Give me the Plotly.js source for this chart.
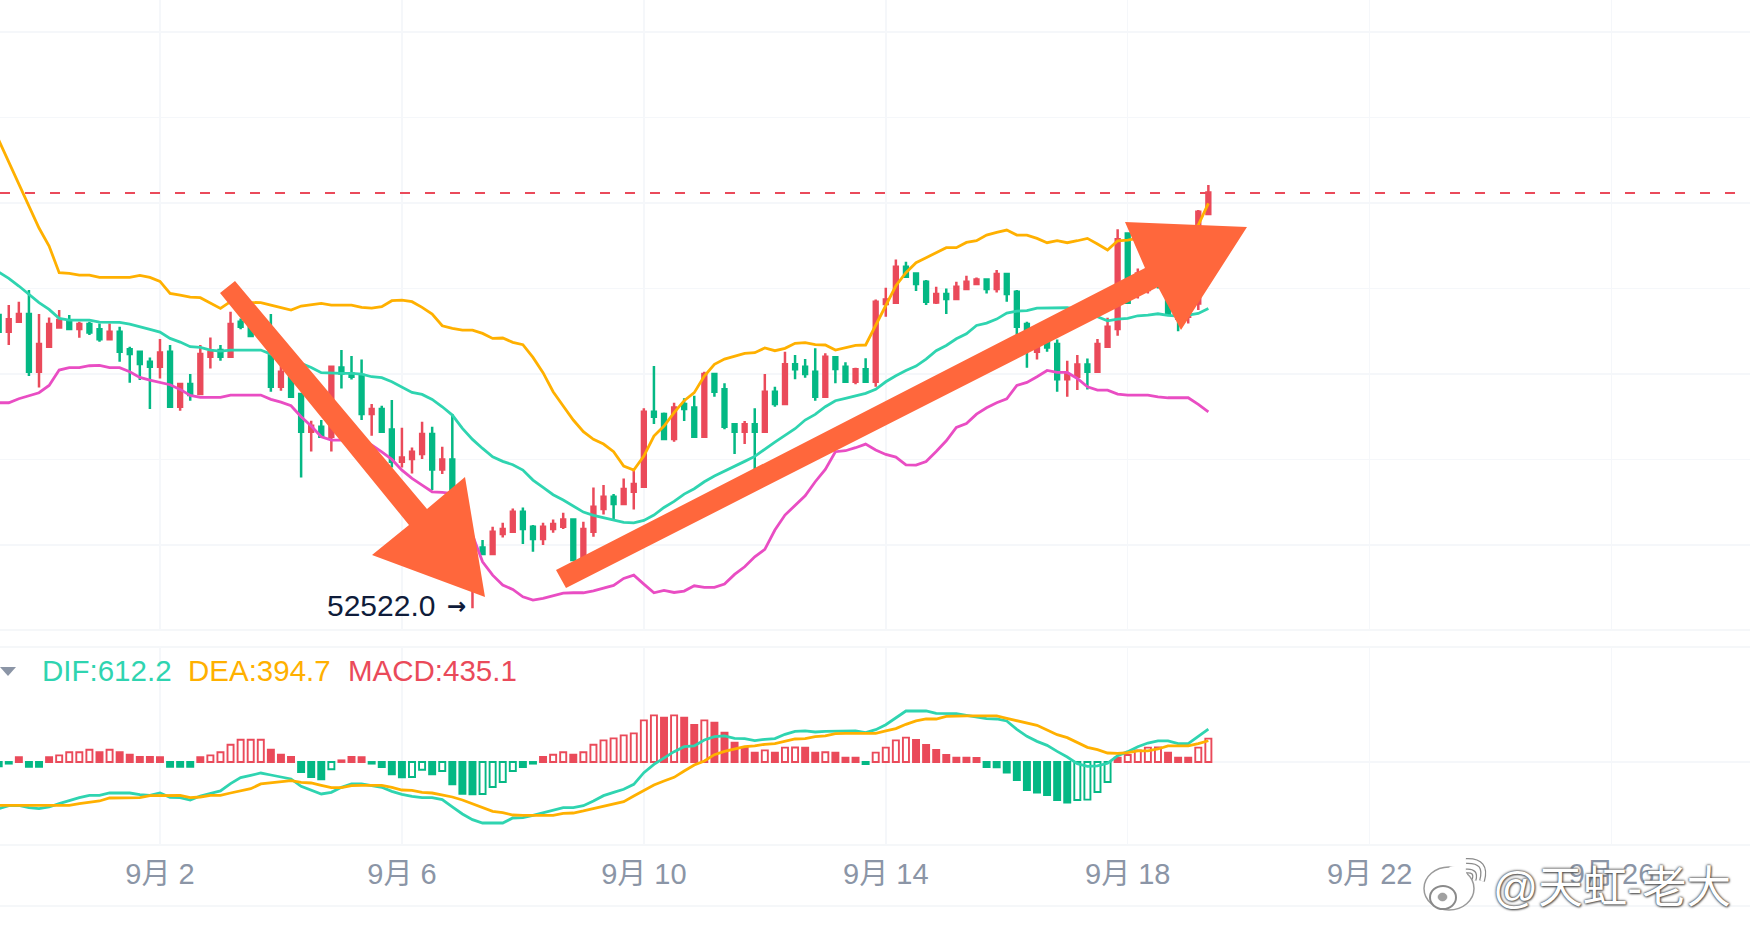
<!DOCTYPE html>
<html>
<head>
<meta charset="utf-8">
<script src="https://cdn.plot.ly/plotly-3.0.1.min.js"></script>
<style>
  html, body { margin: 0; padding: 0; background: #fff; overflow: hidden; }
  #chart { width: 1750px; height: 928px; }
</style>
</head>
<body>
<div id="chart"></div>
<script>
const tickIndex = [16, 40, 64, 88, 112, 136, 160];
const tickLabels = ["9月 2", "9月 6", "9月 10", "9月 14", "9月 18", "9月 22", "9月 26"];
const priceGrid = [54000, 56000, 58000, 60000, 62000, 64000, 66000];
const lastPrice = 62233;
const lowPrice = 52522;
const lowIndex = 47;

const open = [
  59379,58989,59223,59402,58053,58638,59090,59246,59051,59168,
  59044,58810,58989,58576,58521,58287,58170,58521,57234,57764,
  57530,58404,58560,58404,59223,59106,58888,59067,57702,58014,
  57530,56649,56766,56532,58154,58014,57975,57062,57179,56704,
  55947,56010,56127,56594,55768,56002,54738,53000,53944,53787,
  54255,54310,54778,54427,54138,54372,54427,54599,53725,54310,
  54840,55129,54957,55246,55363,57118,57063,56478,57297,57219,
  56533,58000,57641,56822,56650,56822,56650,57586,57297,58226,
  58171,58054,57469,58389,58171,57820,58109,57818,59635,59667,
  60509,60353,60158,59674,59869,59752,59986,60103,60213,59986,
  60337,59924,59167,58520,58754,58699,57880,57935,58224,58052,
  58637,59050,61289,59885,59963,60400,60119,59800,59339,59651,
  61741
];
const high = [
  59496,59613,59691,59964,59402,59324,59496,59379,59223,59223,
  59184,59184,59106,58638,58521,58388,58817,58677,57796,58000,
  58677,58856,58677,59457,59301,59184,59400,59402,58326,58170,
  57546,56906,56922,58170,58560,58420,58342,57296,57257,57390,
  56743,56282,56883,56766,56298,57062,54900,54000,54115,54427,
  54521,54856,54879,54466,54521,54599,54755,54599,54544,55347,
  55402,55191,55558,55792,57196,58187,57102,57329,57430,57492,
  58054,58000,57781,56822,56900,57196,58000,57703,58522,58444,
  58350,58600,58483,58389,58272,58148,58366,59745,60018,60681,
  60626,60369,60197,60041,60002,60158,60298,60259,60213,60431,
  60353,59963,59222,58871,58832,58809,58309,58442,58364,58816,
  59316,61383,61305,60470,60509,60500,60300,60000,60500,61835,
  62420
];
const low = [
  58911,58677,59223,57952,57686,58638,59067,59051,58849,58911,
  58755,58810,58287,57796,57858,57179,57897,57211,57140,57374,
  57530,58131,58310,58404,59044,58888,58888,57585,57608,57445,
  55581,56189,56532,56189,57663,57874,56922,56555,56649,55814,
  55814,55674,56010,55284,55658,54582,53600,52522,53787,53787,
  54177,54310,54021,53842,53998,54287,54372,53647,53725,54193,
  54716,54583,54957,54833,55363,56829,56478,56416,56900,56533,
  56533,57469,56705,56127,56361,55753,56650,57235,57297,57875,
  57914,57375,57469,57781,57820,57758,57820,57701,59339,59635,
  60275,59940,59612,59635,59401,59752,59986,60103,59885,59908,
  59690,58910,58146,58341,58520,57584,57467,57623,57639,58052,
  58637,58894,59651,59768,59885,60000,59400,59000,59183,59495,
  61741
];
const close = [
  58989,59278,59402,58053,58700,59168,59262,59051,59168,58973,
  58810,58989,58521,58466,58232,58170,58505,57234,57764,57507,
  58466,58521,58404,59168,59106,58888,59220,57702,58053,57468,
  56649,56789,56532,58170,58014,57936,57062,57179,56649,55947,
  56048,56181,56594,55768,56002,54738,53800,53800,53787,54310,
  54372,54778,54372,54138,54427,54489,54599,53647,54372,54895,
  55129,54957,55308,55425,57118,57001,56478,57219,57180,56533,
  58000,57586,56767,56650,56822,56650,57586,57297,58226,58109,
  58000,57469,58405,58116,57820,58109,57820,59690,59745,60509,
  60275,60103,59690,59869,59752,60041,60158,60213,59986,60337,
  59869,59105,58715,58637,58621,57880,57997,58224,58052,58699,
  59105,61149,59667,60353,60431,60100,59400,59300,60431,61796,
  62248
];

const bollUpper = [
  63473,62958,62420,61906,61415,60994,60370,60354,60315,60315,
  60260,60260,60260,60260,60307,60260,60167,59886,59847,59800,
  59785,59668,59535,59691,59699,59675,59668,59613,59558,59496,
  59590,59613,59652,59613,59613,59613,59558,59543,59574,59714,
  59730,59691,59558,59402,59129,59067,59028,59028,58950,58833,
  58842,58740,58686,58389,58031,57586,57251,56923,56650,56471,
  56361,56182,55847,55753,56081,56549,56783,57095,57375,57563,
  57953,58226,58350,58421,58483,58499,58608,58545,58600,58717,
  58733,58686,58678,58561,58608,58670,58678,59144,59612,60064,
  60369,60603,60720,60837,60954,60954,61078,61117,61250,61312,
  61367,61250,61250,61172,61071,61117,61071,61117,61172,61039,
  60899,61117,61133,61172,61172,61211,61250,61289,61328,61484,
  61991
];
const bollMiddle = [
  60385,60237,60058,59863,59668,59512,59301,59262,59262,59262,
  59215,59207,59207,59168,59114,59044,58981,58833,58747,58638,
  58622,58560,58537,58560,58560,58560,58560,58466,58404,58326,
  58248,58154,58030,58014,58014,58014,57998,57936,57913,57819,
  57686,57569,57523,57406,57234,57039,56727,56470,56259,56064,
  55956,55878,55753,55519,55347,55176,55051,54911,54770,54692,
  54638,54575,54528,54520,54575,54700,54879,55020,55191,55316,
  55480,55613,55722,55839,55956,56073,56244,56408,56564,56720,
  56923,57056,57235,57375,57430,57485,57547,57641,57818,57958,
  58083,58185,58348,58543,58668,58824,58941,59136,59191,59284,
  59425,59472,59480,59542,59550,59550,59550,59511,59433,59339,
  59245,59284,59300,59362,59378,59409,59370,59355,59378,59417,
  59534
];
const bollLower = [
  57328,57328,57421,57484,57562,57733,58092,58147,58147,58193,
  58201,58147,58147,58053,57921,57858,57803,57749,57640,57499,
  57452,57452,57452,57507,57507,57507,57507,57406,57343,57257,
  57000,56782,56532,56454,56454,56454,56415,56337,56181,56002,
  55752,55557,55401,55245,55229,55206,54777,54231,53607,53295,
  53062,52961,52789,52711,52750,52812,52875,52883,52883,52929,
  52984,53054,53218,53296,53085,52883,52937,52890,52922,53046,
  53008,53008,53085,53312,53491,53725,53897,54349,54700,54918,
  55152,55480,55769,56182,56205,56276,56361,56221,56118,56055,
  55876,55868,55954,56188,56437,56749,56843,57061,57210,57327,
  57420,57732,57802,57935,58083,58036,58036,57896,57701,57623,
  57623,57529,57506,57506,57506,57467,57444,57444,57444,57288,
  57116
];

const macdHist = [
  -80,-30,90,-90,-90,90,124,180,180,229,
  180,229,180,136,93,93,90,-90,-90,-90,
  90,124,180,322,415,415,415,229,136,93,
  -186,-279,-322,-136,30,93,90,-30,-93,-229,
  -285,-280,-143,-229,-167,-415,-590,-601,-595,-465,
  -372,-167,-93,-30,93,136,180,136,180,322,
  403,440,496,533,775,868,825,868,825,688,
  775,731,545,360,267,174,217,174,267,270,
  265,174,180,175,80,78,-40,174,267,403,
  453,409,316,223,130,80,78,76,-95,-97,
  -198,-335,-521,-570,-614,-707,-756,-707,-700,-558,
  -372,80,130,217,267,270,174,80,78,267,
  435.1
];
const dif = [
  -868,-812,-806,-849,-868,-837,-775,-713,-663,-620,
  -620,-577,-577,-577,-608,-620,-577,-657,-663,-707,
  -632,-583,-539,-403,-291,-248,-205,-242,-279,-316,
  -453,-521,-595,-564,-471,-409,-409,-440,-471,-546,
  -601,-639,-663,-663,-701,-837,-967,-1073,-1135,-1135,
  -1135,-1042,-1035,-992,-949,-899,-849,-849,-812,-725,
  -626,-564,-508,-415,-198,-43,68,192,285,298,
  409,471,484,440,434,397,422,434,515,571,
  577,558,571,577,577,577,546,601,694,825,
  949,949,949,905,899,899,868,837,806,800,
  763,608,477,384,310,198,93,-31,-81,-74,
  -25,118,192,285,353,391,391,341,341,477,
  612.2
];
const dea = [
  -806,-806,-806,-806,-806,-806,-806,-806,-775,-756,
  -725,-670,-663,-663,-663,-626,-620,-620,-620,-663,
  -651,-620,-620,-577,-539,-496,-409,-391,-360,-347,
  -378,-391,-434,-477,-477,-440,-434,-434,-434,-471,
  -521,-527,-564,-577,-608,-651,-707,-781,-856,-918,
  -942,-986,-992,-992,-992,-992,-955,-949,-911,-868,
  -818,-769,-738,-632,-527,-428,-353,-285,-167,-56,
  19,136,198,248,285,298,329,341,391,428,
  434,471,484,527,533,533,533,533,577,620,
  701,763,800,800,849,856,856,856,856,856,
  812,769,725,682,595,508,453,360,273,229,
  167,161,174,205,205,242,298,298,298,341,
  394.7
];

const RED = "#ea4a5a";
const GREEN = "#04b884";
const TEAL = "#2fd4b0";
const ORANGE = "#ffb000";
const MAGENTA = "#e94dc3";
const CORAL = "#ff673c";
const GRID = "#f5f7fa";
const TICK = "#8b95a6";
const BASE_FONT = "Liberation Sans, Noto Sans CJK SC, sans-serif";

const W = 1750;
const H = 928;
const px = (x) => x / W;
const py = (y) => 1 - y / H;

const candleX = open.map((_, i) => i);

// hollow bars are the ones moving up from the previous bar, tiny ones stay solid
const histColor = macdHist.map((v) => (v >= 0 ? RED : GREEN));
const histFill = macdHist.map((v, i) =>
  i > 0 && v >= macdHist[i - 1] && Math.abs(v) > 100 ? "#ffffff" : histColor[i]
);

function bandTrace(values, color) {
  return {
    type: "scatter",
    mode: "lines",
    x: candleX,
    y: values,
    line: { color, width: 2.8 },
    hoverinfo: "skip",
    xaxis: "x",
    yaxis: "y",
  };
}

function macdLine(values, color) {
  return {
    type: "scatter",
    mode: "lines",
    x: candleX,
    y: values,
    line: { color, width: 2.8 },
    hoverinfo: "skip",
    xaxis: "x2",
    yaxis: "y2",
  };
}

const traces = [
  {
    type: "candlestick",
    x: candleX,
    open,
    high,
    low,
    close,
    increasing: { line: { color: RED, width: 2.5 }, fillcolor: RED },
    decreasing: { line: { color: GREEN, width: 2.5 }, fillcolor: GREEN },
    whiskerwidth: 0,
    hoverinfo: "skip",
    xaxis: "x",
    yaxis: "y",
  },
  bandTrace(bollUpper, ORANGE),
  bandTrace(bollMiddle, TEAL),
  bandTrace(bollLower, MAGENTA),
  {
    type: "bar",
    x: candleX,
    y: macdHist,
    width: 0.6,
    marker: { color: histFill, line: { color: histColor, width: 1.9 } },
    hoverinfo: "skip",
    xaxis: "x2",
    yaxis: "y2",
  },
  macdLine(dif, TEAL),
  macdLine(dea, ORANGE),
];

function polygon(points, fill) {
  const path = points
    .map(([x, y], i) => `${i ? "L" : "M"} ${px(x)} ${py(y)}`)
    .join(" ") + " Z";
  return { type: "path", xref: "paper", yref: "paper", path, fillcolor: fill, line: { width: 0 } };
}

function ring(x0, x1, y0, y1, fill, line, width) {
  return {
    type: "circle", xref: "paper", yref: "paper",
    x0: px(x0), x1: px(x1), y0: py(y0), y1: py(y1),
    fillcolor: fill, line: { color: line, width },
  };
}

function curve(x0, y0, cx, cy, x1, y1, color, width) {
  return {
    type: "path", xref: "paper", yref: "paper",
    path: `M ${px(x0)} ${py(y0)} Q ${px(cx)} ${py(cy)} ${px(x1)} ${py(y1)}`,
    line: { color, width },
  };
}

const separators = [630, 647, 845, 906].map((y) => ({
  type: "line", xref: "paper", yref: "paper",
  x0: 0, x1: 1, y0: py(y), y1: py(y),
  line: { color: "#f2f4f7", width: 1.5 },
  layer: "below",
}));

const downArrow = [[220, 293], [235, 281], [427, 509], [465, 477], [485, 597], [372, 555], [409, 525]];
const upArrow = [[556, 570], [1145, 268], [1125, 222], [1247, 227], [1181, 330], [1158, 287], [566, 588]];
const legendCaret = [[0, 667], [16, 667], [8, 676]];

const shapes = [
  ...separators,
  {
    type: "line", xref: "paper", yref: "y",
    x0: 0, x1: 1, y0: lastPrice, y1: lastPrice,
    line: { color: RED, width: 2, dash: "10px,15px" },
  },
  polygon(downArrow, CORAL),
  polygon(upArrow, CORAL),
  polygon(legendCaret, TICK),
  // weibo mark over the footer
  ring(1424, 1474, 867, 910, "#ffffff", "#9a9a9a", 1.5),
  curve(1450, 870, 1466, 866, 1464, 880, "#ffffff", 6),
  ring(1430, 1456, 886, 909, "#ffffff", "#8a8a8a", 2),
  ring(1438, 1447, 893, 901, "#a0a0a0", "#8a8a8a", 0.5),
  curve(1466, 861, 1488, 860, 1482, 881, "#8a8a8a", 6),
  curve(1466, 861, 1488, 860, 1482, 881, "#ffffff", 3.5),
  curve(1466, 871, 1477, 870, 1474, 880, "#8a8a8a", 5),
  curve(1466, 871, 1477, 870, 1474, 880, "#ffffff", 2.5),
];

function legendLabel(text, x, color) {
  return {
    xref: "paper", yref: "paper",
    x: px(x), y: py(670),
    xanchor: "left", yanchor: "middle",
    text, showarrow: false,
    font: { family: BASE_FONT, size: 29.5, color },
  };
}

const annotations = [
  legendLabel("DIF:612.2", 40, TEAL),
  legendLabel("DEA:394.7", 186, ORANGE),
  legendLabel("MACD:435.1", 346, RED),
  {
    xref: "x", yref: "y",
    x: lowIndex, y: lowPrice,
    xanchor: "right", yanchor: "middle",
    xshift: -35, yshift: 3,
    text: lowPrice.toFixed(1),
    showarrow: false,
    font: { family: BASE_FONT, size: 30, color: "#0f1c3a" },
  },
  {
    xref: "x", yref: "y",
    x: lowIndex, y: lowPrice,
    xanchor: "right", yanchor: "middle",
    xshift: -4, yshift: 2,
    text: "<b>→</b>",
    showarrow: false,
    font: { family: "DejaVu Sans", size: 23, color: "#0f1c3a" },
  },
  {
    xref: "paper", yref: "paper",
    x: px(1491), y: py(887),
    xanchor: "left", yanchor: "middle",
    text: "@天虹-老大",
    showarrow: false,
    font: {
      family: BASE_FONT, size: 44.5, color: "#ffffff",
      shadow: "0 0 3px #444, 0 0 2px #555, 1px 1px 2px #777",
    },
  },
];

const xRange = [0.13, 173.73];

const layout = {
  width: W,
  height: H,
  margin: { l: 0, r: 0, t: 0, b: 0 },
  paper_bgcolor: "#ffffff",
  plot_bgcolor: "#ffffff",
  showlegend: false,
  boxgap: 0.46,
  font: { family: BASE_FONT, color: TICK },
  xaxis: {
    domain: [0, 1],
    range: xRange,
    anchor: "y",
    tickmode: "array",
    tickvals: tickIndex,
    showticklabels: false,
    ticks: "",
    showgrid: true,
    gridcolor: GRID,
    gridwidth: 1.5,
    zeroline: false,
    rangeslider: { visible: false },
  },
  yaxis: {
    domain: [py(630), 1],
    range: [52012, 66748],
    tickmode: "array",
    tickvals: priceGrid,
    showticklabels: false,
    ticks: "",
    showgrid: true,
    gridcolor: GRID,
    gridwidth: 1.5,
    zeroline: false,
  },
  xaxis2: {
    domain: [0, 1],
    range: xRange,
    anchor: "y2",
    tickmode: "array",
    tickvals: tickIndex,
    ticktext: tickLabels,
    tickangle: 0,
    tickfont: { family: BASE_FONT, size: 29, color: TICK },
    ticks: "",
    ticklabelstandoff: 9,
    showgrid: true,
    gridcolor: GRID,
    gridwidth: 1.5,
    zeroline: false,
  },
  yaxis2: {
    domain: [py(845), py(647)],
    range: [-1544, 2139],
    showgrid: false,
    showticklabels: false,
    ticks: "",
    zeroline: true,
    zerolinecolor: GRID,
    zerolinewidth: 1.5,
  },
  shapes,
  annotations,
};

Plotly.newPlot("chart", traces, layout, { displayModeBar: false, staticPlot: true });
</script>
</body>
</html>
